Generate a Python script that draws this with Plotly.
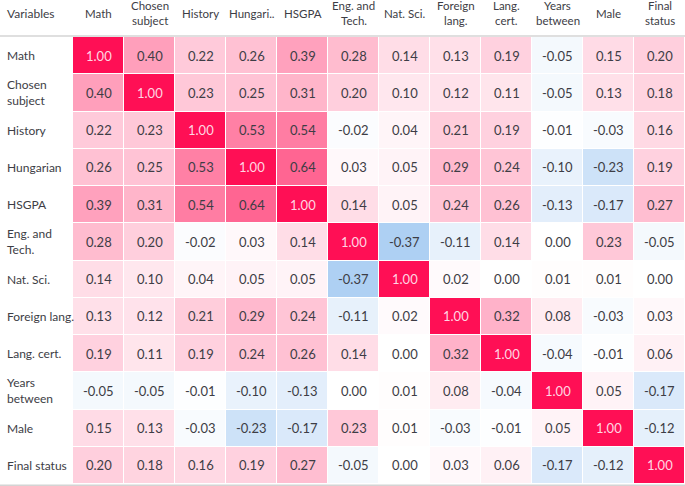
import plotly.graph_objects as go

columns = ["Math", "Chosen\nsubject", "History", "Hungari..", "HSGPA", "Eng. and\nTech.",
           "Nat. Sci.", "Foreign\nlang.", "Lang.\ncert.", "Years\nbetween", "Male", "Final\nstatus"]
rows = ["Math", "Chosen<br>subject", "History", "Hungarian", "HSGPA", "Eng. and<br>Tech.",
        "Nat. Sci.", "Foreign lang.", "Lang. cert.", "Years<br>between", "Male", "Final status"]

r_math = [1.00, 0.40, 0.22, 0.26, 0.39, 0.28, 0.14, 0.13, 0.19, -0.05, 0.15, 0.20]
r_chosen = [0.40, 1.00, 0.23, 0.25, 0.31, 0.20, 0.10, 0.12, 0.11, -0.05, 0.13, 0.18]
r_history = [0.22, 0.23, 1.00, 0.53, 0.54, -0.02, 0.04, 0.21, 0.19, -0.01, -0.03, 0.16]
r_hungarian = [0.26, 0.25, 0.53, 1.00, 0.64, 0.03, 0.05, 0.29, 0.24, -0.10, -0.23, 0.19]
r_hsgpa = [0.39, 0.31, 0.54, 0.64, 1.00, 0.14, 0.05, 0.24, 0.26, -0.13, -0.17, 0.27]
r_eng = [0.28, 0.20, -0.02, 0.03, 0.14, 1.00, -0.37, -0.11, 0.14, 0.00, 0.23, -0.05]
r_nat = [0.14, 0.10, 0.04, 0.05, 0.05, -0.37, 1.00, 0.02, 0.00, 0.01, 0.01, 0.00]
r_foreign = [0.13, 0.12, 0.21, 0.29, 0.24, -0.11, 0.02, 1.00, 0.32, 0.08, -0.03, 0.03]
r_lang = [0.19, 0.11, 0.19, 0.24, 0.26, 0.14, 0.00, 0.32, 1.00, -0.04, -0.01, 0.06]
r_years = [-0.05, -0.05, -0.01, -0.10, -0.13, 0.00, 0.01, 0.08, -0.04, 1.00, 0.05, -0.17]
r_male = [0.15, 0.13, -0.03, -0.23, -0.17, 0.23, 0.01, -0.03, -0.01, 0.05, 1.00, -0.12]
r_final = [0.20, 0.18, 0.16, 0.19, 0.27, -0.05, 0.00, 0.03, 0.06, -0.17, -0.12, 1.00]

z = [r_math, r_chosen, r_history, r_hungarian, r_hsgpa, r_eng, r_nat, r_foreign,
     r_lang, r_years, r_male, r_final]

xi = list(range(len(columns)))
yi = list(range(len(rows)))

FONT = "Lato"
TXT = "#3d3d45"
fig = go.Figure()
fig.add_trace(go.Heatmap(
    z=z, x=xi, y=yi, zmin=-1, zmax=1,
    colorscale=[[0.0, "rgb(36,128,223)"], [0.5, "rgb(255,255,255)"], [1.0, "rgb(255,15,85)"]],
    showscale=False, xgap=1, ygap=1, hoverinfo="skip",
))

ann = []
for i, row in enumerate(z):
    for j, v in enumerate(row):
        ann.append(dict(x=j, y=i, xref="x", yref="y", text=f"{v:.2f}", showarrow=False,
                        font=dict(family=FONT, size=13,
                                  color="#ffd6e2" if i == j else TXT)))
for j, c in enumerate(columns):
    parts = c.split("\n")
    shifts = [24] if len(parts) == 1 else [32, 17]
    for p, s in zip(parts, shifts):
        ann.append(dict(x=j, y=1, xref="x", yref="paper", yshift=s, text=p,
                        showarrow=False, font=dict(family=FONT, size=11.5, color=TXT),
                        yanchor="middle", borderpad=0))
for i, r in enumerate(rows):
    ann.append(dict(x=-68 / 612, y=i, xref="paper", yref="y", text=r, showarrow=False,
                    xanchor="left", align="left",
                    font=dict(family=FONT, size=12, color=TXT)))
ann.append(dict(x=-68 / 612, y=1, xref="paper", yref="paper", yshift=24, text="Variables",
                showarrow=False, xanchor="left", yanchor="middle",
                font=dict(family=FONT, size=12, color=TXT)))

shapes = [
    dict(type="line", xref="paper", yref="paper", x0=-73 / 612, x1=1, y0=1.002, y1=1.002,
         line=dict(color="#d4d4d4", width=1.5)),
    dict(type="line", xref="paper", yref="paper", x0=-73 / 612, x1=1, y0=-0.003, y1=-0.003,
         line=dict(color="#d4d4d4", width=1.5)),
]

fig.update_layout(
    width=685, height=486,
    margin=dict(l=73, r=0, t=37, b=2),
    paper_bgcolor="white", plot_bgcolor="white",
    xaxis=dict(visible=False, range=[-0.5, 11.5]),
    yaxis=dict(visible=False, range=[11.5, -0.5]),
    annotations=ann, shapes=shapes,
)
fig.write_html("out.html", config={"displayModeBar": False},
               post_script="document.body.style.margin='0';document.body.style.overflow='hidden';")
